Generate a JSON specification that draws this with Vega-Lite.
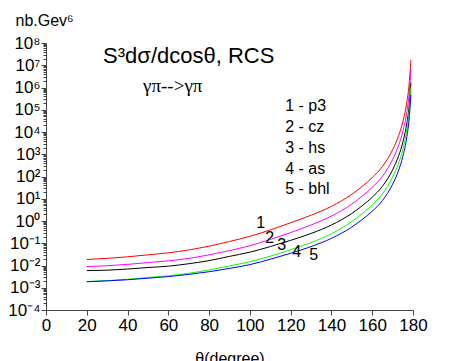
{
  "$schema": "https://vega.github.io/schema/vega-lite/v6.json",
  "width": 367,
  "height": 267,
  "autosize": {"type": "none"},
  "padding": {"left": 46, "top": 43, "right": 37, "bottom": 51},
  "background": "white",
  "config": {
    "view": {"stroke": null},
    "font": "Liberation Sans",
    "axis": {"labelFont": "Liberation Sans", "titleFont": "Liberation Sans", "labelColor": "black", "titleColor": "black", "domainColor": "#444", "tickColor": "#444", "grid": false, "titleFontWeight": "normal"}
  },
  "datasets": {
    "curves": [
      {"curve":"p3","angle":20,"value":0.01862},{"curve":"p3","angle":30,"value":0.02089},{"curve":"p3","angle":40,"value":0.02455},{"curve":"p3","angle":50,"value":0.0302},{"curve":"p3","angle":60,"value":0.03715},{"curve":"p3","angle":70,"value":0.0501},{"curve":"p3","angle":80,"value":0.07413},{"curve":"p3","angle":90,"value":0.1202},{"curve":"p3","angle":100,"value":0.2042},{"curve":"p3","angle":110,"value":0.3981},{"curve":"p3","angle":120,"value":0.8318},{"curve":"p3","angle":130,"value":1.82},{"curve":"p3","angle":140,"value":4.571},{"curve":"p3","angle":150,"value":15.85},{"curve":"p3","angle":155,"value":35.48},{"curve":"p3","angle":160,"value":89.13},{"curve":"p3","angle":165,"value":281.8},{"curve":"p3","angle":170,"value":1585},{"curve":"p3","angle":173,"value":7079},{"curve":"p3","angle":175,"value":28180},{"curve":"p3","angle":177,"value":229100},{"curve":"p3","angle":178,"value":1122000},{"curve":"p3","angle":179,"value":17380000},
      {"curve":"cz","angle":20,"value":0.008913},{"curve":"cz","angle":30,"value":0.009772},{"curve":"cz","angle":40,"value":0.01122},{"curve":"cz","angle":50,"value":0.01349},{"curve":"cz","angle":60,"value":0.01622},{"curve":"cz","angle":70,"value":0.02089},{"curve":"cz","angle":80,"value":0.0302},{"curve":"cz","angle":90,"value":0.04677},{"curve":"cz","angle":100,"value":0.07762},{"curve":"cz","angle":110,"value":0.1479},{"curve":"cz","angle":120,"value":0.302},{"curve":"cz","angle":130,"value":0.6607},{"curve":"cz","angle":140,"value":1.66},{"curve":"cz","angle":150,"value":5.754},{"curve":"cz","angle":155,"value":12.88},{"curve":"cz","angle":160,"value":32.36},{"curve":"cz","angle":165,"value":102.3},{"curve":"cz","angle":170,"value":575.4},{"curve":"cz","angle":173,"value":2570},{"curve":"cz","angle":175,"value":10230},{"curve":"cz","angle":177,"value":83180},{"curve":"cz","angle":178,"value":407400},{"curve":"cz","angle":179,"value":6310000},
      {"curve":"hs","angle":20,"value":0.005888},{"curve":"hs","angle":30,"value":0.006166},{"curve":"hs","angle":40,"value":0.006918},{"curve":"hs","angle":50,"value":0.008128},{"curve":"hs","angle":60,"value":0.009333},{"curve":"hs","angle":70,"value":0.01202},{"curve":"hs","angle":80,"value":0.0166},{"curve":"hs","angle":90,"value":0.0257},{"curve":"hs","angle":100,"value":0.03981},{"curve":"hs","angle":110,"value":0.07079},{"curve":"hs","angle":120,"value":0.1349},{"curve":"hs","angle":130,"value":0.2754},{"curve":"hs","angle":140,"value":0.6607},{"curve":"hs","angle":150,"value":2.188},{"curve":"hs","angle":155,"value":4.786},{"curve":"hs","angle":160,"value":11.75},{"curve":"hs","angle":165,"value":36.31},{"curve":"hs","angle":170,"value":199.5},{"curve":"hs","angle":173,"value":871},{"curve":"hs","angle":175,"value":3388},{"curve":"hs","angle":177,"value":25700},{"curve":"hs","angle":178,"value":117500},{"curve":"hs","angle":179,"value":1660000},
      {"curve":"as","angle":20,"value":0.001905},{"curve":"as","angle":30,"value":0.002089},{"curve":"as","angle":40,"value":0.002399},{"curve":"as","angle":50,"value":0.002884},{"curve":"as","angle":60,"value":0.003467},{"curve":"as","angle":70,"value":0.004467},{"curve":"as","angle":80,"value":0.00631},{"curve":"as","angle":90,"value":0.00955},{"curve":"as","angle":100,"value":0.01479},{"curve":"as","angle":110,"value":0.0263},{"curve":"as","angle":120,"value":0.05129},{"curve":"as","angle":130,"value":0.1072},{"curve":"as","angle":140,"value":0.2692},{"curve":"as","angle":150,"value":0.9333},{"curve":"as","angle":155,"value":2.089},{"curve":"as","angle":160,"value":5.248},{"curve":"as","angle":165,"value":16.6},{"curve":"as","angle":170,"value":93.33},{"curve":"as","angle":173,"value":416.9},{"curve":"as","angle":175,"value":1660},{"curve":"as","angle":177,"value":13490},{"curve":"as","angle":178,"value":66070},{"curve":"as","angle":179,"value":1023000},
      {"curve":"bhl","angle":20,"value":0.001862},{"curve":"bhl","angle":30,"value":0.002042},{"curve":"bhl","angle":40,"value":0.002291},{"curve":"bhl","angle":50,"value":0.002692},{"curve":"bhl","angle":60,"value":0.003162},{"curve":"bhl","angle":70,"value":0.003981},{"curve":"bhl","angle":80,"value":0.005248},{"curve":"bhl","angle":90,"value":0.007413},{"curve":"bhl","angle":100,"value":0.01096},{"curve":"bhl","angle":110,"value":0.01905},{"curve":"bhl","angle":120,"value":0.03548},{"curve":"bhl","angle":130,"value":0.07079},{"curve":"bhl","angle":140,"value":0.166},{"curve":"bhl","angle":150,"value":0.537},{"curve":"bhl","angle":155,"value":1.148},{"curve":"bhl","angle":160,"value":2.754},{"curve":"bhl","angle":165,"value":8.318},{"curve":"bhl","angle":170,"value":44.67},{"curve":"bhl","angle":173,"value":195},{"curve":"bhl","angle":175,"value":776.2},{"curve":"bhl","angle":177,"value":6166},{"curve":"bhl","angle":178,"value":30200},{"curve":"bhl","angle":179,"value":467700}
    ],
    "labels": [
      {"angle":117.3,"value":90600,"text":"1 - p3"},
      {"angle":117.3,"value":9700,"text":"2 - cz"},
      {"angle":117.3,"value":1104,"text":"3 - hs"},
      {"angle":117.3,"value":129.4,"text":"4 - as"},
      {"angle":117.3,"value":15.85,"text":"5 - bhl"},
      {"angle":103.1,"value":0.484,"text":"1"},
      {"angle":107.5,"value":0.1,"text":"2"},
      {"angle":113.4,"value":0.0498,"text":"3"},
      {"angle":120.8,"value":0.0241,"text":"4"},
      {"angle":129.1,"value":0.01766,"text":"5"}
    ],
    "title": [{"angle":28.0,"value":12200000,"text":"S³dσ/dcosθ, RCS"}],
    "reaction": [{"angle":47.6,"value":646000,"text":"γπ-->γπ"}]
  },
  "layer": [
    {
      "data": {"name": "curves"},
      "mark": {"type": "line", "strokeWidth": 1, "interpolate": "monotone"},
      "encoding": {
        "x": {
          "field": "angle", "type": "quantitative",
          "scale": {"domain": [0, 180], "nice": false},
          "axis": {
            "title": "θ(degree)",
            "values": [0,10,20,30,40,50,60,70,80,90,100,110,120,130,140,150,160,170,180],
            "labelExpr": "datum.value % 20 == 0 ? datum.label : ''",
            "tickSize": {"condition": {"test": "datum.value % 20 == 0", "value": 5}, "value": 3},
            "labelFontSize": 17, "titleFontSize": 16, "labelPadding": 2, "titlePadding": 17, "labelOverlap": false, "labelFlush": false
          }
        },
        "y": {
          "field": "value", "type": "quantitative",
          "scale": {"type": "log", "domain": [0.0001, 100000000], "nice": false},
          "axis": {
            "title": "nb.Gev⁶",
            "titleAngle": 0, "titleAlign": "left", "titleBaseline": "alphabetic", "titleX": -31, "titleY": -18, "titleFontSize": 16,
            "values": [1e-4,2e-4,3e-4,4e-4,5e-4,6e-4,7e-4,8e-4,9e-4,1e-3,2e-3,3e-3,4e-3,5e-3,6e-3,7e-3,8e-3,9e-3,1e-2,2e-2,3e-2,4e-2,5e-2,6e-2,7e-2,8e-2,9e-2,1e-1,2e-1,3e-1,4e-1,5e-1,6e-1,7e-1,8e-1,9e-1,1,2,3,4,5,6,7,8,9,10,20,30,40,50,60,70,80,90,100,200,300,400,500,600,700,800,900,1000,2000,3000,4000,5000,6000,7000,8000,9000,1e4,2e4,3e4,4e4,5e4,6e4,7e4,8e4,9e4,1e5,2e5,3e5,4e5,5e5,6e5,7e5,8e5,9e5,1e6,2e6,3e6,4e6,5e6,6e6,7e6,8e6,9e6,1e7,2e7,3e7,4e7,5e7,6e7,7e7,8e7,9e7,1e8],
            "labelExpr": "abs(log(datum.value)/LN10 - round(log(datum.value)/LN10)) < 0.001 ? '10' + (round(log(datum.value)/LN10) < 0 ? '⁻' : '') + ['⁰','¹','²','³','⁴','⁵','⁶','⁷','⁸','⁹'][abs(round(log(datum.value)/LN10))] : ''",
            "tickSize": {"condition": {"test": "abs(log(datum.value)/LN10 - round(log(datum.value)/LN10)) < 0.001", "value": 5}, "value": 3},
            "labelFontSize": 17, "labelPadding": 1, "labelOverlap": false, "labelFlush": false
          }
        },
        "color": {
          "field": "curve", "type": "nominal",
          "scale": {"domain": ["p3","cz","hs","as","bhl"], "range": ["#ff0000","#ff00ff","#000000","#00ff00","#0000ff"]},
          "legend": null
        }
      }
    },
    {
      "data": {"name": "labels"},
      "mark": {"type": "text", "align": "left", "baseline": "alphabetic", "fontSize": 16, "font": "Liberation Sans", "color": "black"},
      "encoding": {
        "x": {"field": "angle", "type": "quantitative"},
        "y": {"field": "value", "type": "quantitative"},
        "text": {"field": "text"}
      }
    },
    {
      "data": {"name": "title"},
      "mark": {"type": "text", "align": "left", "baseline": "alphabetic", "fontSize": 22, "font": "Liberation Sans", "color": "black"},
      "encoding": {
        "x": {"field": "angle", "type": "quantitative"},
        "y": {"field": "value", "type": "quantitative"},
        "text": {"field": "text"}
      }
    },
    {
      "data": {"name": "reaction"},
      "mark": {"type": "text", "align": "left", "baseline": "alphabetic", "fontSize": 19, "font": "Liberation Serif", "color": "black"},
      "encoding": {
        "x": {"field": "angle", "type": "quantitative"},
        "y": {"field": "value", "type": "quantitative"},
        "text": {"field": "text"}
      }
    }
  ]
}
